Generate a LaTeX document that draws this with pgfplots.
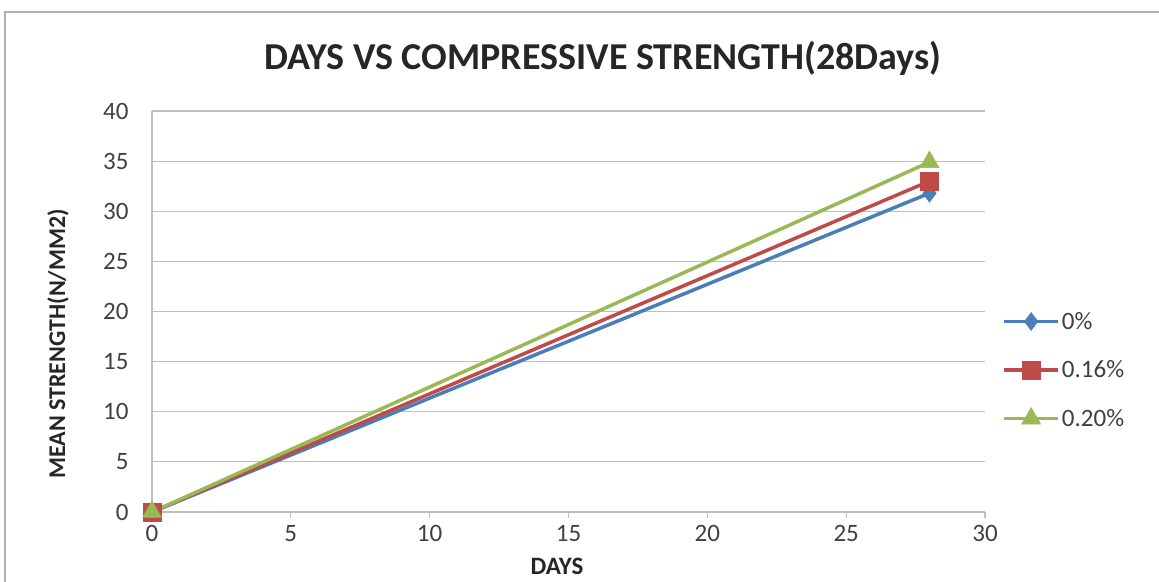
\documentclass[border=0pt]{standalone}
\usepackage{pgfplots}
\pgfplotsset{compat=1.18}
\usepackage{fontspec}
\setmainfont{Carlito}
\definecolor{sblue}{HTML}{4A7EBB}
\definecolor{sred}{HTML}{BE4B48}
\definecolor{sgreen}{HTML}{98B954}
\definecolor{gridgray}{RGB}{190,190,190}
\definecolor{txtgray}{RGB}{64,64,64}
\begin{document}
\begin{tikzpicture}[x=1pt,y=1pt]
\useasboundingbox (0,0) rectangle (1159,581);
\clip (0,0) rectangle (1159,581);
\fill[white] (0,0) rectangle (1159,581);
\draw[gray!60, line width=2pt] (5,-20) rectangle (1190,569);
\begin{axis}[
    at={(152pt,69pt)}, anchor=south west,
    scale only axis, width=833pt, height=401pt,
    xmin=0, xmax=30, ymin=0, ymax=40,
    xtick={0,5,...,30}, ytick={0,5,...,40},
    axis x line*=bottom, axis y line*=left,
    axis line style={gridgray, line width=1.2pt, -},
    ymajorgrids=true,
    grid style={gridgray, line width=1.2pt},
    tick style={gridgray, line width=1.2pt},
    tick align=outside, major tick length=6pt,
    ytick style={draw=none},
    ticklabel style={font=\fontsize{25}{25}\selectfont, text=txtgray},
    /pgf/number format/assume math mode=true,
    xticklabel style={yshift=-4pt},
    yticklabel style={xshift=-14pt},
    legend style={at={(1.017,0.354)}, anchor=west, draw=none, fill=none,
        font=\fontsize{25}{25}\selectfont, text=txtgray,
        row sep=26pt},
    legend cell align=left,
    legend image code/.code={
        \draw[mark repeat=2,mark phase=2,#1] plot coordinates {(0cm,0cm) (0.95cm,0cm) (1.9cm,0cm)};
    },
  ]
  \addplot[sblue, line width=3.5pt, mark=diamond*, mark size=9pt, mark options={line width=0.5pt}]
    coordinates {(0,0) (28,31.8)};
  \addplot[sred, line width=3.5pt, mark=square*, mark size=9pt, mark options={line width=0.5pt}]
    coordinates {(0,0) (28,33.0)};
  \addplot[sgreen, line width=3.5pt, mark=triangle*, mark size=11pt, mark options={line width=0.5pt}]
    coordinates {(0,0) (28,34.9)};
  \legend{0\%, 0.16\%, 0.20\%}
\end{axis}
\node[font=\bfseries\fontsize{38}{38}\selectfont, text=black!85] at (603,523) {DAYS VS COMPRESSIVE STRENGTH(28Days)};
\node[font=\bfseries\fontsize{24}{24}\selectfont, text=black!85, rotate=90] at (58,237) {MEAN STRENGTH(N/MM2)};
\node[font=\bfseries\fontsize{25}{25}\selectfont, text=black!85] at (557,15) {DAYS};
\end{tikzpicture}
\end{document}
